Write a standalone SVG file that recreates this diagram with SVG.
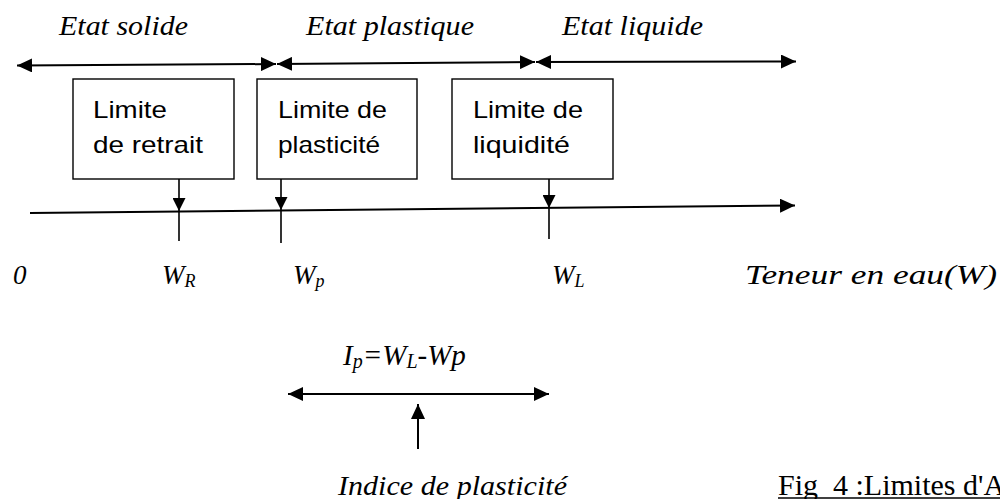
<svg xmlns="http://www.w3.org/2000/svg" width="1000" height="499" viewBox="0 0 1000 499">
<style>
.it{font-family:"Liberation Serif","Times New Roman",serif;font-style:italic;font-size:27px;fill:#000}
.sub{font-size:18px}
.bx{font-family:"Liberation Sans",Arial,sans-serif;font-size:24px;fill:#000}
.cap{font-family:"Liberation Serif","Times New Roman",serif;font-size:30px;fill:#000;white-space:pre}
.box{fill:#fff;stroke:#000;stroke-width:1.4}
.ln{stroke:#000;stroke-width:2;fill:none}
.tk{stroke:#000;stroke-width:1.6;fill:none}
</style>
<defs>
<marker id="big" markerUnits="userSpaceOnUse" markerWidth="15" markerHeight="14" refX="15" refY="7" orient="auto-start-reverse" viewBox="0 0 15 14">
<path d="M0,0 L15,7 L0,14 z" fill="#000"/>
</marker>
<marker id="small" markerUnits="userSpaceOnUse" markerWidth="13" markerHeight="13" refX="13" refY="6.5" orient="auto-start-reverse" viewBox="0 0 13 13">
<path d="M0,0 L13,6.5 L0,13 z" fill="#000"/>
</marker>
</defs>

<g id="labels-top">
<text class="it" x="59" y="35" textLength="129" lengthAdjust="spacingAndGlyphs">Etat solide</text>
<text class="it" x="306" y="35" textLength="168" lengthAdjust="spacingAndGlyphs">Etat plastique</text>
<text class="it" x="562" y="35" textLength="141" lengthAdjust="spacingAndGlyphs">Etat liquide</text>
</g>

<g id="box-retrait">
<rect class="box" x="73" y="79" width="161" height="100"/>
<text class="bx" x="93" y="118" textLength="74" lengthAdjust="spacingAndGlyphs">Limite</text>
<text class="bx" x="93" y="153" textLength="110" lengthAdjust="spacingAndGlyphs">de retrait</text>
</g>
<g id="box-plasticite">
<rect class="box" x="257" y="79" width="160" height="100"/>
<text class="bx" x="278" y="118" textLength="109" lengthAdjust="spacingAndGlyphs">Limite de</text>
<text class="bx" x="278" y="153" textLength="102" lengthAdjust="spacingAndGlyphs">plasticité</text>
</g>
<g id="box-liquidite">
<rect class="box" x="452" y="79" width="161" height="100"/>
<text class="bx" x="473" y="118" textLength="110" lengthAdjust="spacingAndGlyphs">Limite de</text>
<text class="bx" x="473" y="153" textLength="97" lengthAdjust="spacingAndGlyphs">liquidité</text>
</g>

<g id="connectors">
<line class="ln" x1="17" y1="65.5" x2="276" y2="64" marker-start="url(#big)" marker-end="url(#big)"/>
<line class="ln" x1="277" y1="64" x2="535" y2="62" marker-start="url(#big)" marker-end="url(#big)"/>
<line class="ln" x1="536" y1="62" x2="796" y2="61.5" marker-start="url(#big)" marker-end="url(#big)"/>
<line class="ln" x1="30" y1="213" x2="795" y2="205.5" marker-end="url(#big)"/>
<line class="tk" x1="179" y1="179" x2="179" y2="211" marker-end="url(#small)"/>
<line class="tk" x1="281" y1="179" x2="281" y2="210" marker-end="url(#small)"/>
<line class="tk" x1="549" y1="179" x2="549" y2="208" marker-end="url(#small)"/>
<line class="tk" x1="179" y1="211" x2="179" y2="241"/>
<line class="tk" x1="281" y1="210" x2="281" y2="243"/>
<line class="tk" x1="549" y1="208" x2="549" y2="239"/>
<line class="ln" x1="288" y1="394" x2="549" y2="394" marker-start="url(#big)" marker-end="url(#big)"/>
<line class="ln" x1="418" y1="449" x2="418" y2="404" marker-end="url(#big)"/>
</g>

<g id="axis-labels">
<text class="it" x="13" y="284">0</text>
<text class="it" x="162" y="284">W<tspan class="sub" dy="3">R</tspan></text>
<text class="it" x="293" y="284">W<tspan class="sub" dy="3">p</tspan></text>
<text class="it" x="552" y="284">W<tspan class="sub" dy="3">L</tspan></text>
<text class="it" x="745" y="284" textLength="252" lengthAdjust="spacingAndGlyphs">Teneur en eau(W)</text>
</g>

<g id="formula">
<text class="it" x="343" y="365" style="font-size:29px">I<tspan style="font-size:20px" dy="3">p</tspan><tspan dy="-3">=W</tspan><tspan style="font-size:20px" dy="3">L</tspan><tspan dy="-3">-Wp</tspan></text>
<text class="it" x="338" y="495" textLength="229" lengthAdjust="spacingAndGlyphs">Indice de plasticité</text>
</g>

<g id="caption">
<text class="cap" x="778" y="495">Fig  4 :Limites d'A</text>
<line x1="778" y1="498" x2="1000" y2="498" stroke="#000" stroke-width="1.5"/>
</g>
</svg>
